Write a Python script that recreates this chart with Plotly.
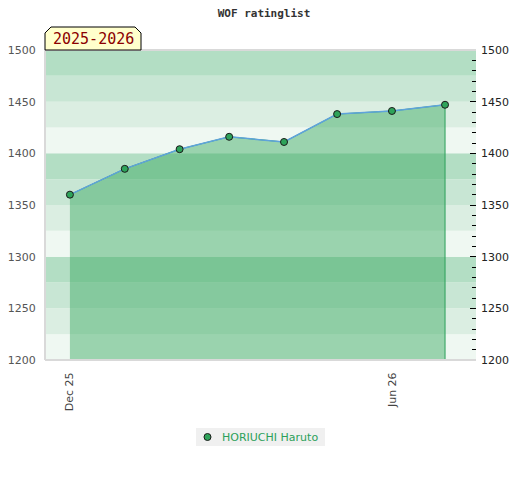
import plotly.graph_objects as go

# ---- data ----
dates = ["2025-12-01", "2026-01-01", "2026-02-01", "2026-03-01",
         "2026-04-01", "2026-05-01", "2026-06-01", "2026-07-01"]
ratings = [1360, 1385, 1404, 1416, 1411, 1438, 1441, 1447]
player = "HORIUCHI Haruto"
season_label = "2025-2026"
title_text = "WOF ratinglist"
x_tick_vals = ["2025-12-01", "2026-06-01"]
x_tick_text = ["Dec 25", "Jun 26"]
y_min, y_max = 1200, 1500

# ---- layout constants (page pixels; the page body has an 8px margin) ----
OFF = 8
W, H = 520 - OFF, 480 - OFF
PL, PR, PT, PB = 45, 476, 50, 360          # plot area in page pixels
L, R, T, B = PL - OFF, W - (PR - OFF), PT - OFF, H - (PB - OFF)
PW, PH = PR - PL, PB - PT

def px(x):
    return (x - PL) / PW

def py(y):
    return (PB - y) / PH

band_colors = ["#eff8f2", "#dbeee2", "#c8e6d4", "#b3dec4"]
marker_fill = "#2ea35a"
marker_edge = "#1a1a1a"

fig = go.Figure()

# fill polygon (area under the line, with green edges)
fig.add_trace(go.Scatter(
    x=dates + [dates[-1], dates[0]],
    y=ratings + [y_min, y_min],
    fill="toself", fillcolor="rgba(54,168,94,0.46)",
    line=dict(color="#2ca05a", width=1),
    mode="lines", hoverinfo="skip", showlegend=False,
))
# line + markers
fig.add_trace(go.Scatter(
    x=dates, y=ratings, mode="lines+markers", name=player,
    line=dict(color="#5fa3dc", width=1.5),
    marker=dict(color=marker_fill, size=7, line=dict(color=marker_edge, width=1)),
    showlegend=False,
))
# invisible trace for right axis
fig.add_trace(go.Scatter(x=[dates[0]], y=[ratings[0]], yaxis="y2",
                         mode="markers", marker=dict(opacity=0),
                         hoverinfo="skip", showlegend=False))

shapes = []
b = y_min
while b < y_max:
    k = ((b - y_min) // 25) % 4
    shapes.append(dict(type="rect", xref="paper", yref="y", x0=0, x1=1,
                       y0=b, y1=b + 25, fillcolor=band_colors[k],
                       line=dict(width=0), layer="below"))
    b += 25
# borders
for (x0, y0, x1, y1) in [(0, 1, 1, 1), (0, 0, 1, 0), (0, 0, 0, 1)]:
    shapes.append(dict(type="line", xref="paper", yref="paper",
                       x0=x0, y0=y0, x1=x1, y1=y1,
                       line=dict(color="#d9d9d9", width=2), layer="above"))
# season label box with clipped top corners
pts = [(45, 33), (51, 27), (135, 27), (141, 33), (141, 50), (45, 50)]
path = "M " + " L ".join(f"{px(a):.5f},{py(c):.5f}" for a, c in pts) + " Z"
shapes.append(dict(type="path", xref="paper", yref="paper", path=path,
                   fillcolor="#ffffcc", line=dict(color="#000000", width=1),
                   layer="above"))
# manual legend box + marker
shapes.append(dict(type="rect", xref="paper", yref="paper",
                   x0=px(196), x1=px(325), y0=py(446), y1=py(428),
                   fillcolor="#f0f0f0", line=dict(width=0), layer="above"))
shapes.append(dict(type="circle", xref="paper", yref="paper",
                   xsizemode="pixel", ysizemode="pixel",
                   xanchor=px(207.5), yanchor=py(437),
                   x0=-3.5, x1=3.5, y0=-3.5, y1=3.5,
                   fillcolor=marker_fill, line=dict(color=marker_edge, width=1),
                   layer="above"))

fig.update_layout(
    width=W, height=H,
    margin=dict(l=L, r=R, t=T, b=B, autoexpand=False),
    paper_bgcolor="white", plot_bgcolor="white",
    title=dict(text=title_text, x=0.5, xanchor="center",
               y=1 - (13 - OFF) / H, yanchor="middle",
               font=dict(family="DejaVu Sans Mono", size=11, color="#333333",
                         weight="bold")),
    shapes=shapes,
    annotations=[
        dict(text=season_label, xref="paper", yref="paper",
             x=px(93), y=py(39.5), showarrow=False,
             xanchor="center", yanchor="middle",
             font=dict(family="DejaVu Sans Mono", size=15, color="#8b0000")),
        dict(text=player, xref="paper", yref="paper",
             x=px(220), y=py(437), showarrow=False,
             xanchor="left", yanchor="middle",
             font=dict(family="DejaVu Sans", size=11, color="#2ca05a")),
    ],
    xaxis=dict(type="date", range=["2025-11-16 22:00", "2026-07-18 12:00"],
               tickvals=x_tick_vals, ticktext=x_tick_text, tickangle=-90,
               showgrid=False, zeroline=False, showline=False, automargin=False,
               ticks="outside", ticklen=7, tickcolor="rgba(0,0,0,0)",
               tickfont=dict(family="DejaVu Sans", size=11, color="#444444")),
    yaxis=dict(range=[y_min, y_max], dtick=50, showgrid=False, zeroline=False,
               automargin=False,
               ticks="outside", ticklen=6, tickcolor="rgba(0,0,0,0)",
               tickfont=dict(family="DejaVu Sans", size=11, color="#555555")),
    yaxis2=dict(range=[y_min, y_max], dtick=50, overlaying="y", side="right",
                showgrid=False, zeroline=False, automargin=False,
                ticks="inside", ticklen=6, ticklabelstandoff=4,
                tickcolor="#000000", tickwidth=1,
                minor=dict(dtick=10, ticks="inside", ticklen=4,
                           tickcolor="#000000", showgrid=False),
                tickfont=dict(family="DejaVu Sans", size=11, color="#222222")),
    showlegend=False,
)

fig.write_html("out.html")
